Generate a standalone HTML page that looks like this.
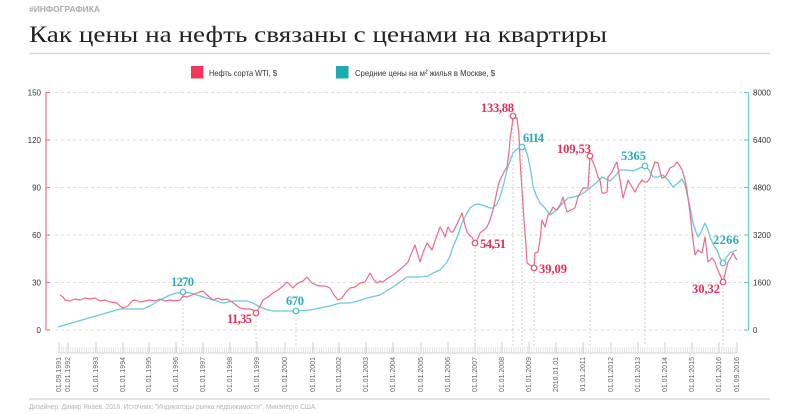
<!DOCTYPE html>
<html><head><meta charset="utf-8"><style>
html,body{margin:0;padding:0;background:#fff;}
svg{display:block;}
</style></head><body>
<svg width="800" height="414" viewBox="0 0 800 414" xmlns="http://www.w3.org/2000/svg">
<defs>
<pattern id="mt" patternUnits="userSpaceOnUse" x="59" y="0" width="2.2604" height="414">
<rect x="0" y="0" width="0.6" height="414" fill="#d6d6d6"/>
</pattern>
</defs>
<rect width="800" height="414" fill="#fff"/>
<text x="29" y="12" font-family="Liberation Sans, sans-serif" font-weight="bold" font-size="8.5" fill="#aaa" textLength="71" lengthAdjust="spacingAndGlyphs">#ИНФОГРАФИКА</text>
<text x="29" y="42" font-family="Liberation Serif, serif" font-size="23" fill="#222" textLength="578" lengthAdjust="spacingAndGlyphs">Как цены на нефть связаны с ценами на квартиры</text>
<line x1="29" y1="53.5" x2="770" y2="53.5" stroke="#d8d8d8" stroke-width="1.5"/>

<!-- legend -->
<rect x="191" y="66" width="12.5" height="12.5" fill="#f2385a"/>
<text x="209" y="76" font-family="Liberation Sans, sans-serif" font-size="8.5" fill="#333" textLength="68" lengthAdjust="spacingAndGlyphs">Нефть сорта WTI, $</text>
<rect x="336" y="66" width="12.5" height="12.5" fill="#1aacae"/>
<text x="355" y="76" font-family="Liberation Sans, sans-serif" font-size="8.5" fill="#333" textLength="140" lengthAdjust="spacingAndGlyphs">Средние цены на м² жилья в Москве, $</text>

<!-- gridlines -->
<g stroke="#dcdcdc" stroke-width="1" stroke-dasharray="3,3">
<line x1="55" y1="92.5" x2="745" y2="92.5"/>
<line x1="55" y1="140" x2="745" y2="140"/>
<line x1="55" y1="187.5" x2="745" y2="187.5"/>
<line x1="55" y1="235" x2="745" y2="235"/>
<line x1="55" y1="282.5" x2="745" y2="282.5"/>
<line x1="55" y1="330" x2="745" y2="330"/>
</g>

<!-- vertical dotted annotation lines -->
<g stroke="#d0d0d0" stroke-width="1" stroke-dasharray="2,2">
<line x1="183" y1="292" x2="183" y2="346"/>
<line x1="256" y1="313" x2="256" y2="346"/>
<line x1="296" y1="311" x2="296" y2="346"/>
<line x1="475" y1="243" x2="475" y2="346"/>
<line x1="513" y1="116" x2="513" y2="346"/>
<line x1="522" y1="147" x2="522" y2="346"/>
<line x1="534" y1="268" x2="534" y2="346"/>
<line x1="590" y1="156" x2="590" y2="346"/>
<line x1="645" y1="166" x2="645" y2="346"/>
<line x1="723" y1="263" x2="723" y2="346"/>
</g>

<!-- left axis -->
<g stroke="#f07088" stroke-width="1.2" fill="none">
<line x1="46" y1="92.5" x2="46" y2="330"/>
<line x1="46" y1="92.5" x2="50" y2="92.5"/>
<line x1="46" y1="140" x2="50" y2="140"/>
<line x1="46" y1="187.5" x2="50" y2="187.5"/>
<line x1="46" y1="235" x2="50" y2="235"/>
<line x1="46" y1="282.5" x2="50" y2="282.5"/>
<line x1="46" y1="330" x2="50" y2="330"/>
</g>
<g font-family="Liberation Sans, sans-serif" font-size="8" fill="#333" text-anchor="end">
<text x="41" y="95.5">150</text>
<text x="41" y="143">120</text>
<text x="41" y="190.5">90</text>
<text x="41" y="238">60</text>
<text x="41" y="285.5">30</text>
<text x="41" y="333">0</text>
</g>

<!-- right axis -->
<g stroke="#6ccad6" stroke-width="1.2" fill="none">
<line x1="748.5" y1="92.5" x2="748.5" y2="330"/>
<line x1="744" y1="92.5" x2="748.5" y2="92.5"/>
<line x1="744" y1="140" x2="748.5" y2="140"/>
<line x1="744" y1="187.5" x2="748.5" y2="187.5"/>
<line x1="744" y1="235" x2="748.5" y2="235"/>
<line x1="744" y1="282.5" x2="748.5" y2="282.5"/>
<line x1="744" y1="330" x2="748.5" y2="330"/>
</g>
<g font-family="Liberation Sans, sans-serif" font-size="8" fill="#333">
<text x="753" y="95.5">8000</text>
<text x="753" y="143">6400</text>
<text x="753" y="190.5">4800</text>
<text x="753" y="238">3200</text>
<text x="753" y="285.5">1600</text>
<text x="753" y="333">0</text>
</g>

<!-- x ruler -->
<rect x="59" y="347" width="678.5" height="6" fill="url(#mt)"/>
<line x1="59" y1="353" x2="737.5" y2="353" stroke="#d6d6d6" stroke-width="1"/>
<g stroke="#cfcfcf" stroke-width="1">
<line x1="59" y1="342" x2="59" y2="353"/><line x1="68" y1="342" x2="68" y2="353"/><line x1="96" y1="342" x2="96" y2="353"/><line x1="123" y1="342" x2="123" y2="353"/><line x1="149" y1="342" x2="149" y2="353"/><line x1="176" y1="342" x2="176" y2="353"/><line x1="203" y1="342" x2="203" y2="353"/><line x1="230" y1="342" x2="230" y2="353"/><line x1="257" y1="342" x2="257" y2="353"/><line x1="285" y1="342" x2="285" y2="353"/><line x1="313" y1="342" x2="313" y2="353"/><line x1="339" y1="342" x2="339" y2="353"/><line x1="366" y1="342" x2="366" y2="353"/><line x1="393" y1="342" x2="393" y2="353"/><line x1="421" y1="342" x2="421" y2="353"/><line x1="448" y1="342" x2="448" y2="353"/><line x1="475" y1="342" x2="475" y2="353"/><line x1="502" y1="342" x2="502" y2="353"/><line x1="529" y1="342" x2="529" y2="353"/><line x1="556" y1="342" x2="556" y2="353"/><line x1="583" y1="342" x2="583" y2="353"/><line x1="611" y1="342" x2="611" y2="353"/><line x1="638" y1="342" x2="638" y2="353"/><line x1="665" y1="342" x2="665" y2="353"/><line x1="692" y1="342" x2="692" y2="353"/><line x1="719" y1="342" x2="719" y2="353"/><line x1="737" y1="342" x2="737" y2="353"/>
</g>
<g font-family="Liberation Sans, sans-serif" font-size="7" fill="#666" text-anchor="end" dominant-baseline="middle">
<text transform="translate(59,357) rotate(-90)">01.09.1991</text>
<text transform="translate(68,357) rotate(-90)">01.01.1992</text>
<text transform="translate(96,357) rotate(-90)">01.01.1993</text>
<text transform="translate(123,357) rotate(-90)">01.01.1994</text>
<text transform="translate(149,357) rotate(-90)">01.01.1995</text>
<text transform="translate(176,357) rotate(-90)">01.01.1996</text>
<text transform="translate(203,357) rotate(-90)">01.01.1997</text>
<text transform="translate(230,357) rotate(-90)">01.01.1998</text>
<text transform="translate(257,357) rotate(-90)">01.01.1999</text>
<text transform="translate(285,357) rotate(-90)">01.01.2000</text>
<text transform="translate(313,357) rotate(-90)">01.01.2001</text>
<text transform="translate(339,357) rotate(-90)">01.01.2002</text>
<text transform="translate(366,357) rotate(-90)">01.01.2003</text>
<text transform="translate(393,357) rotate(-90)">01.01.2004</text>
<text transform="translate(421,357) rotate(-90)">01.01.2005</text>
<text transform="translate(448,357) rotate(-90)">01.01.2006</text>
<text transform="translate(475,357) rotate(-90)">01.01.2007</text>
<text transform="translate(502,357) rotate(-90)">01.01.2008</text>
<text transform="translate(529,357) rotate(-90)">01.01.2009</text>
<text transform="translate(556,357) rotate(-90)">2010.01.01</text>
<text transform="translate(583,357) rotate(-90)">01.01.2011</text>
<text transform="translate(611,357) rotate(-90)">01.01.2012</text>
<text transform="translate(638,357) rotate(-90)">01.01.2013</text>
<text transform="translate(665,357) rotate(-90)">01.01.2014</text>
<text transform="translate(692,357) rotate(-90)">01.01.2015</text>
<text transform="translate(719,357) rotate(-90)">01.01.2016</text>
<text transform="translate(737,357) rotate(-90)">01.09.2016</text>
</g>

<!-- cyan series -->
<polyline fill="none" stroke="#6ccad6" stroke-width="1.3" stroke-linejoin="round" points="58,327 120,309 143,309 150,306 160,300 170,295 177,293 183,292 190,293 200,296 210,299 223,303 233,301 247,301 253,303 260,307 268,310 273,311 296,311 310,310 320,308 330,306 340,303 350,303 358,301 367,298 380,295 393,287 400,282 407,277 420,277 428,276 433,273 440,270 447,262 450,256 453,247 458,235 462,223 466,215 470,208 474,205 478,204 482,205 485,206 490,208 493,208 497,204 500,197 504,183 507,170 510,161 513,153 517,149 522,147 525,148 528,157 531,172 533,186 536,195 540,203 545,208 550,215 554,212 557,210 562,204 568,198 574,197 580,195 585,192 590,188 596,183 602,177 606,179 610,181 615,176 620,170 626,170 633,171 640,168 645,166 649,170 653,177 658,177 663,175 668,180 673,187 678,183 682,179 685,185 688,198 691,212 693,223 696,232 698,237 701,232 705,223 708,230 710,237 714,246 717,250 720,258 723,263 726,258 730,253 734,251 737,250"/>

<!-- red series -->
<polyline fill="none" stroke="#f06a84" stroke-width="1.2" stroke-linejoin="round" points="60,295 63,297 65,300 70,301 75,299 80,300 85,298 90,299 95,298 100,301 105,300 110,302 117,303 120,306 123,308 128,306 132,301 135,300 140,302 145,301 150,300 155,301 160,299 165,301 170,300 175,301 180,300 183,296 187,297 192,295 197,293 203,291 207,295 213,300 218,298 222,300 227,299 232,302 236,305 240,308 245,309 250,309 253,310 256,313 260,306 263,300 268,297 273,293 278,290 283,286 287,282 290,285 293,288 297,284 300,282 303,281 307,277 310,281 312,283 316,285 320,286 325,286 330,288 334,295 338,300 342,298 346,292 350,288 355,287 360,283 365,282 370,273 374,280 377,283 380,281 383,282 388,278 393,275 398,271 403,267 408,262 412,252 415,245 418,255 420,262 424,250 427,243 430,247 432,250 436,238 440,227 443,232 445,237 448,227 451,232 453,232 458,222 462,213 465,225 467,232 470,236 472,237 475,243 478,238 480,233 484,230 487,227 490,220 493,210 496,196 498,186 500,180 504,172 507,167 509,152 510,140 512,126 513,116 515,118 517,118 519,135 520,160 522,190 524,220 526,245 527,263 530,265 533,267 534,268 535,253 538,252 540,240 542,220 545,227 548,215 550,213 553,207 556,210 558,208 561,203 563,197 565,205 567,212 571,210 575,208 578,197 583,188 588,188 590,156 593,162 595,167 598,177 600,180 602,193 605,193 607,192 608,177 612,172 615,165 617,162 620,180 623,198 626,188 628,180 632,187 635,192 638,186 642,180 645,182 647,182 650,178 652,170 655,162 658,163 661,175 662,178 665,177 668,172 670,168 674,166 677,162 680,166 682,170 685,180 687,190 690,213 693,240 695,255 698,250 702,253 705,237 708,262 712,258 715,262 717,268 720,275 723,282 726,270 728,262 731,257 733,253 735,257 737,260"/>

<!-- markers -->
<g fill="#fff" stroke-width="1.2">
<circle cx="183" cy="292" r="2.8" stroke="#4bbcca"/>
<circle cx="296" cy="311" r="2.8" stroke="#4bbcca"/>
<circle cx="522" cy="147" r="2.8" stroke="#4bbcca"/>
<circle cx="645" cy="166" r="2.8" stroke="#4bbcca"/>
<circle cx="723" cy="263" r="2.8" stroke="#4bbcca"/>
<circle cx="256" cy="313" r="2.8" stroke="#ec4a68"/>
<circle cx="475" cy="243" r="2.8" stroke="#ec4a68"/>
<circle cx="513" cy="116" r="2.8" stroke="#ec4a68"/>
<circle cx="534" cy="268" r="2.8" stroke="#ec4a68"/>
<circle cx="590" cy="156" r="2.8" stroke="#ec4a68"/>
<circle cx="723" cy="282" r="2.8" stroke="#ec4a68"/>
</g>

<!-- annotation labels -->
<g font-family="Liberation Serif, serif" font-weight="bold" font-size="12.5" lengthAdjust="spacingAndGlyphs">
<text x="171" y="286" fill="#2fa9b8" textLength="23">1270</text>
<text x="286" y="305" fill="#2fa9b8" textLength="18">670</text>
<text x="523" y="142" fill="#2fa9b8" textLength="21">6114</text>
<text x="621" y="160" fill="#2fa9b8" textLength="25">5365</text>
<text x="713" y="244" fill="#2fa9b8" textLength="26">2266</text>
<text x="227" y="323" fill="#ea2a52" textLength="25">11,35</text>
<text x="481" y="112" fill="#ea2a52" textLength="33">133,88</text>
<text x="480" y="248" fill="#ea2a52" textLength="26">54,51</text>
<text x="539" y="273" fill="#ea2a52" textLength="28">39,09</text>
<text x="557" y="153" fill="#ea2a52" textLength="34">109,53</text>
<text x="692" y="293" fill="#ea2a52" textLength="28">30,32</text>
</g>

<!-- footer -->
<line x1="29" y1="399" x2="770" y2="399" stroke="#e3e3e3" stroke-width="2"/>
<text x="29" y="409" font-family="Liberation Sans, sans-serif" font-size="7.5" fill="#b5b5b5" textLength="288" lengthAdjust="spacingAndGlyphs">Дизайнер: Дамир Янаев. 2016. Источник: "Индикаторы рынка недвижимости", Минэнерго США.</text>
</svg>
</body></html>
